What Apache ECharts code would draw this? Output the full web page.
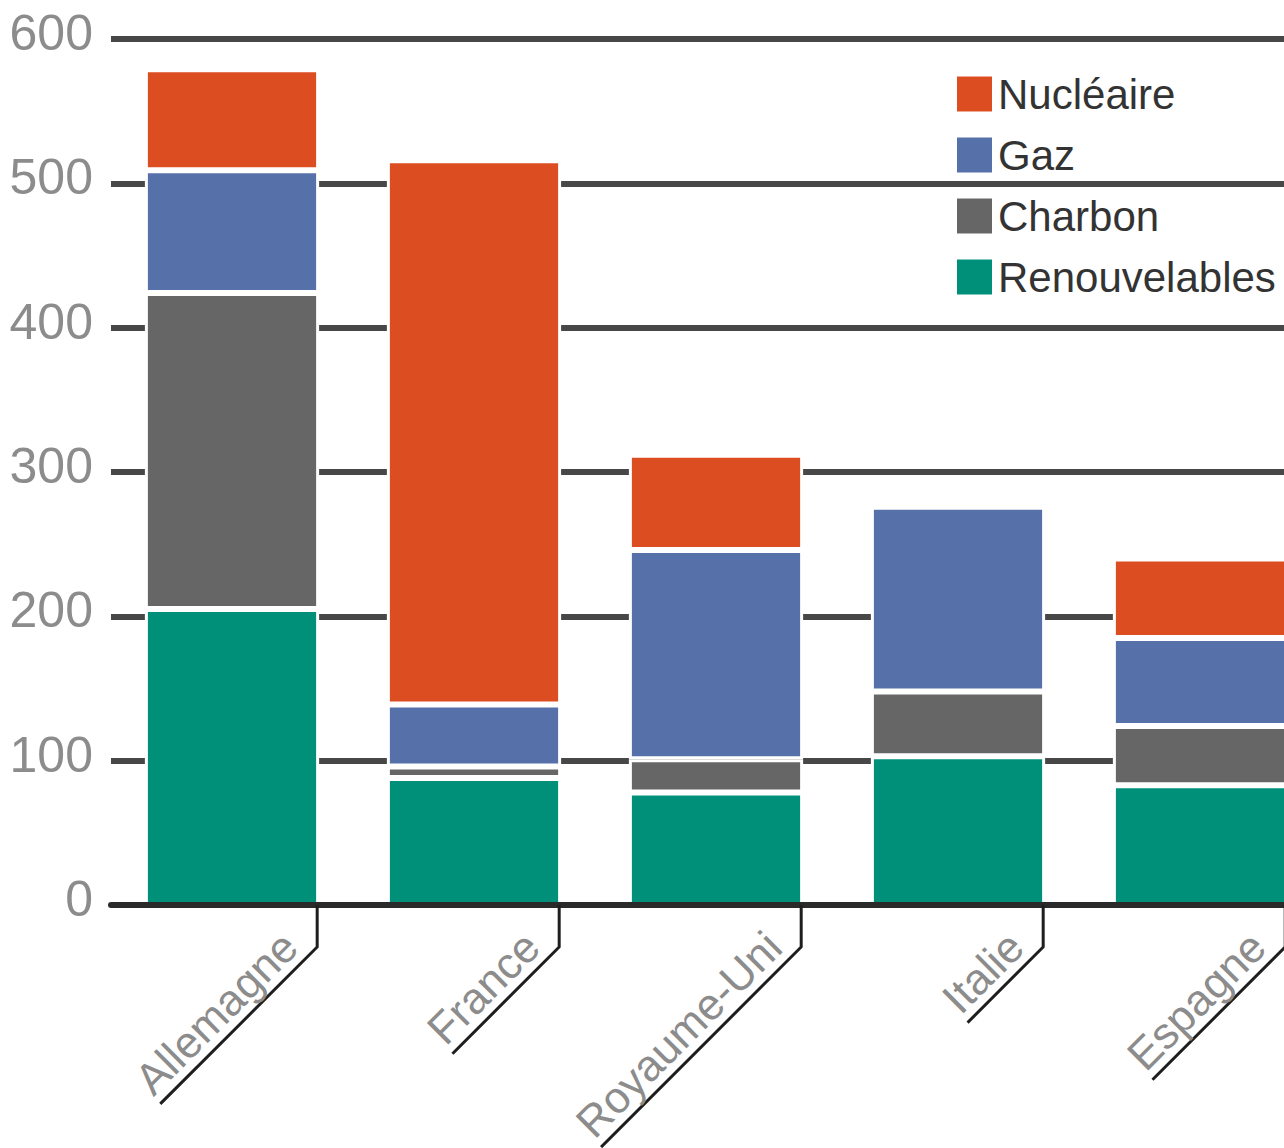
<!DOCTYPE html>
<html>
<head>
<meta charset="utf-8">
<script src="https://cdn.jsdelivr.net/npm/echarts@6/dist/echarts.min.js"></script>
<style>
html,body{margin:0;padding:0;background:#fff;}
#chart{width:1284px;height:1148px;}
</style>
</head>
<body>
<div id="chart"></div>
<script>
// ---- data ----
const categories = ['Allemagne', 'France', 'Royaume-Uni', 'Italie', 'Espagne'];
const renouvelables = [205, 88, 78, 103, 83];
const charbon = [219, 8, 23, 45, 41];
const gaz = [85, 43, 145, 128, 61];
const nucleaire = [70, 377, 66, 2, 55];
const seriesNames = ['Nucléaire', 'Gaz', 'Charbon', 'Renouvelables'];
const yMin = 0, yMax = 600, yStep = 100;

// ---- styles ----
const FONT = '"Liberation Sans", Arial, sans-serif';
const COLORS = {
  'Nucléaire': '#DC4E21',
  'Gaz': '#5671AA',
  'Charbon': '#666666',
  'Renouvelables': '#00907A'
};
const CAT_FONT_SIZE = 44;

const measureCtx = document.createElement('canvas').getContext('2d');
function textWidth(t) {
  measureCtx.font = CAT_FONT_SIZE + 'px ' + FONT;
  return measureCtx.measureText(t).width;
}

function barSeries(name, values) {
  return {
    name: name,
    type: 'bar',
    stack: 'total',
    barWidth: '72%',
    data: values,
    itemStyle: { color: COLORS[name], borderColor: '#ffffff', borderWidth: 3 },
    emphasis: { disabled: true }
  };
}

const chart = echarts.init(document.getElementById('chart'), null, { renderer: 'svg' });

const option = {
  animation: false,
  backgroundColor: '#ffffff',
  grid: { left: 111, top: 39, width: 1210, height: 866, containLabel: false, outerBoundsMode: 'none' },
  legend: {
    data: seriesNames,
    orient: 'vertical',
    left: 955,
    top: 73,
    itemWidth: 37,
    itemHeight: 37,
    itemGap: 19,
    padding: 0,
    icon: 'rect',
    selectedMode: false,
    textStyle: { fontSize: 42, color: '#333333', fontFamily: FONT, lineHeight: 37 }
  },
  xAxis: {
    type: 'category',
    data: categories,
    z: 5,
    axisLine: { show: true, lineStyle: { color: '#2a2a2a', width: 6 } },
    axisTick: { show: false },
    axisLabel: { show: false },
    splitLine: { show: false }
  },
  yAxis: {
    type: 'value',
    min: yMin,
    max: yMax,
    interval: yStep,
    axisLine: { show: false },
    axisTick: { show: false },
    axisLabel: {
      margin: 18,
      formatter: '{t|{value}}',
      rich: {
        t: {
          fontSize: 50,
          color: '#8c8c8c',
          fontFamily: FONT,
          padding: [0, 0, 12, 0]
        }
      }
    },
    splitLine: { show: true, lineStyle: { color: '#474747', width: 6 } }
  },
  series: [
    barSeries('Renouvelables', renouvelables),
    barSeries('Charbon', charbon),
    barSeries('Gaz', gaz),
    barSeries('Nucléaire', nucleaire),
    {
      name: 'axisDecor',
      type: 'custom',
      silent: true,
      z: 6,
      clip: false,
      data: categories.map((c, i) => [i, 0]),
      encode: { x: 0, y: 1 },
      renderItem: function (params, api) {
        const idx = api.value(0);
        const p = api.coord([idx, 0]);
        const band = api.size([1, 0])[0];
        const xt = p[0] + band * 0.352;
        const y0 = p[1];
        const yt = y0 + 42;
        const name = categories[idx];
        const L = textWidth(name) + 14;
        const c = Math.SQRT1_2;
        const ex = xt - L * c, ey = yt + L * c;
        const d = 14, h = 3;
        const ax = xt - d * c - h * c;
        const ay = yt + d * c - h * c;
        return {
          type: 'group',
          children: [
            {
              type: 'polyline',
              shape: { points: [[xt, y0], [xt, yt], [ex, ey]] },
              style: { stroke: '#1e1e1e', lineWidth: 3, fill: 'none' }
            },
            {
              type: 'text',
              x: ax,
              y: ay,
              rotation: Math.PI / 4,
              style: {
                text: name,
                fill: '#8c8c8c',
                fontSize: CAT_FONT_SIZE,
                fontFamily: FONT,
                align: 'right',
                verticalAlign: 'bottom'
              }
            }
          ]
        };
      }
    }
  ]
};

chart.setOption(option);
</script>
</body>
</html>
